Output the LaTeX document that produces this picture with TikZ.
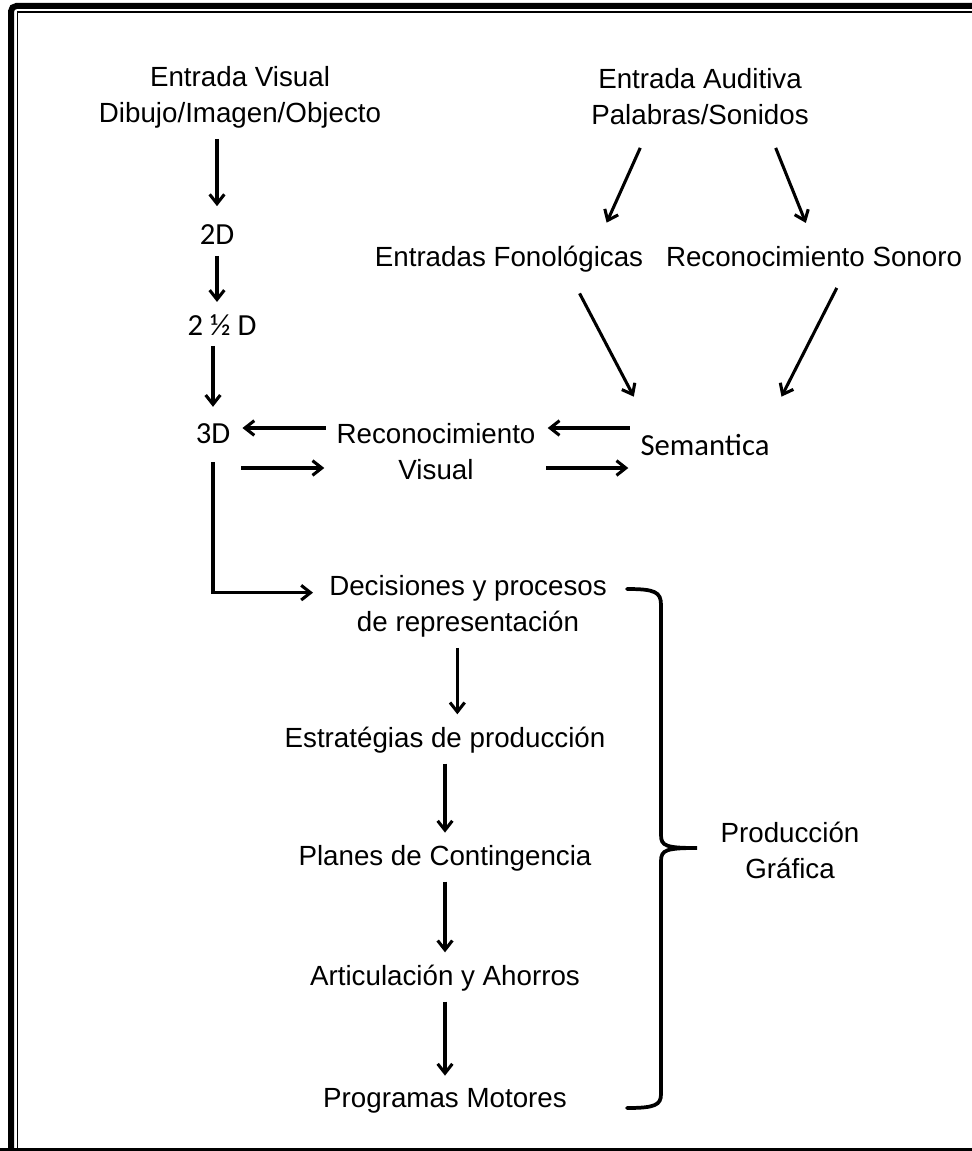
\documentclass[tikz,border=0pt]{standalone}
\usepackage{fontspec}
\setmainfont{Liberation Sans}
\newfontfamily\calfont{Carlito}
\usetikzlibrary{arrows.meta}

\begin{document}
\begin{tikzpicture}[x=0.75pt, y=-0.75pt,
  font=\fontsize{20.8}{27}\selectfont,
  lbl/.style={align=center, inner sep=6pt},
  dim/.style={lbl, font=\calfont\fontsize{23}{27}\selectfont},
  arr/.style={-{Straight Barb[length=7pt, width=11pt]}, line width=2.3pt,
              shorten <=2pt, shorten >=3pt},
  brace/.style={line width=2.8pt, line cap=round}]
  \useasboundingbox (0,0) rectangle (971,1151);
  % Frame
  \draw[line width=4.5pt, rounded corners=4pt] (11,1170) -- (11,6) -- (990,6);
  \draw[line width=1.3pt] (17.5,1170) -- (17.5,12) -- (990,12);
  \draw[line width=2.6pt] (0,1149.5) -- (990,1149.5);
  % Inputs top
  \node[lbl] (vin) at (240,97) {Entrada Visual\\Dibujo/Imagen/Objecto};
  \node[lbl] (ain) at (700,97) {Entrada Auditiva\\Palabras/Sonidos};
  % Visual path left
  \node[dim, anchor=base] (twod) at (217,245) {2D};
  \node[dim, anchor=base] (twohalf) at (222,335) {2 ½ D};
  \node[dim, anchor=base] (threed) at (213,443) {3D};
  \node[lbl] (recvis) at (436,452) {Reconocimiento\\Visual};
  % Auditive path right
  \node[lbl, anchor=base] (fono) at (509,267) {Entradas Fonológicas};
  \node[lbl, anchor=base] (recson) at (814,267) {Reconocimiento Sonoro};
  \node[dim, anchor=base] (sem) at (705,455) {Semantica};
  % Production chain
  \node[lbl] (dec) at (468,606) {Decisiones y procesos\\de representación};
  \node[lbl, anchor=base] (estr) at (445,747) {Estratégias de producción};
  \node[lbl, anchor=base] (plan) at (445,865) {Planes de Contingencia};
  \node[lbl, anchor=base] (artic) at (445,985) {Articulación y Ahorros};
  \node[lbl, anchor=base] (prog) at (445,1107) {Programas Motores};
  \node[lbl] (prod) at (790,850) {Producción\\Gráfica};

  % Arrows visual
  \draw[arr, shorten >=8pt] (twod |- vin.south) -- (twod.north);
  \draw[arr] (twod.south) -- (twod.south |- twohalf.north);
  \draw[arr, shorten >=6pt] (threed |- twohalf.south) -- (threed.north);
  \draw[arr] ([yshift=18pt]recvis.west) -- ([yshift=18pt]recvis.west -| threed.east);
  \draw[arr] ([yshift=-12pt]recvis.west -| threed.east) -- ([yshift=-12pt]recvis.west);
  \draw[arr] ([yshift=18pt]recvis.east -| sem.west) -- ([yshift=18pt]recvis.east);
  \draw[arr] ([yshift=-12pt]recvis.east) -- ([yshift=-12pt]recvis.east -| sem.west);
  % Arrows auditive
  \draw[arr] ([xshift=-44pt, yshift=-9pt]ain.south) -- ([xshift=72pt, yshift=9pt]fono.north);
  \draw[arr] ([xshift=56pt, yshift=-9pt]ain.south) -- ([xshift=-5pt, yshift=9pt]recson.north);
  \draw[arr] ([xshift=52pt, yshift=-7.5pt]fono.south) -- ([xshift=-52pt, yshift=19pt]sem.north);
  \draw[arr] ([xshift=18pt, yshift=-7.5pt]recson.south) -- ([xshift=56pt, yshift=19pt]sem.north);
  % Down to production
  \draw[arr, shorten <=8pt, shorten >=6pt] (threed.south) |- ([yshift=10pt]dec.west);
  \draw[arr] ([xshift=-8pt]dec.south) -- ([xshift=-8pt]dec.south |- estr.north);
  \draw[arr] (estr) -- (plan);
  \draw[arr] (plan) -- (artic);
  \draw[arr] (artic) -- (prog);
  % Brace
  \draw[brace] (627,589) .. controls (655,589) and (661,592) .. (661,605)
    -- (661,835) .. controls (661,846) and (666,848) .. (697,848)
    .. controls (666,848) and (661,850) .. (661,861)
    -- (661,1094) .. controls (661,1105) and (655,1108) .. (627,1108);
\end{tikzpicture}
\end{document}
